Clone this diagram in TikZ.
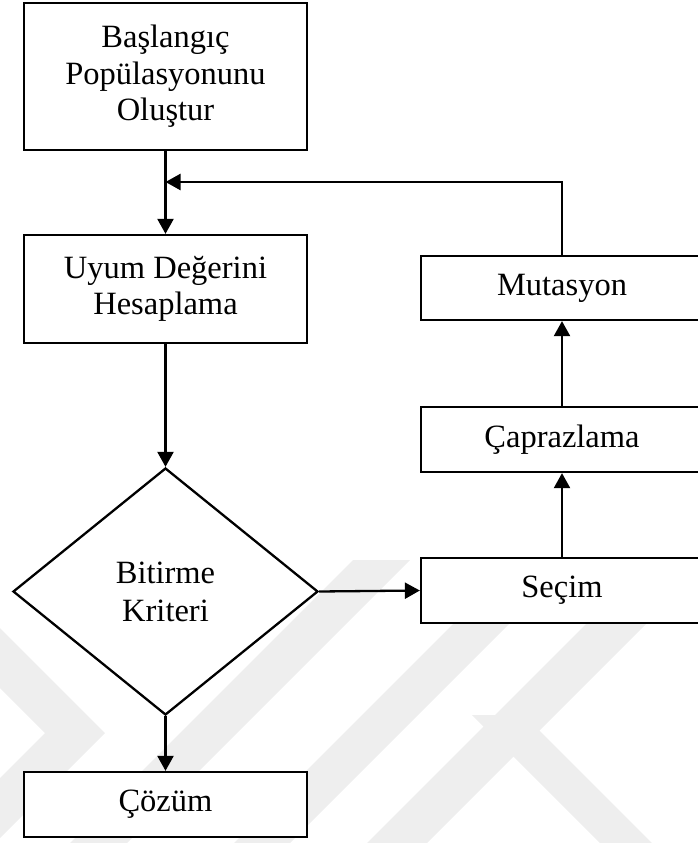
\documentclass[tikz,border=0pt]{standalone}
\usepackage{fontspec}
\setmainfont{Liberation Serif}
\usetikzlibrary{arrows.meta,shapes.geometric}

\definecolor{markgray}{HTML}{EEEEEE}

\tikzset{
  flowline/.style={line width=2.3pt, draw=black},
  flowarrow/.style={flowline, -{Triangle[length=15pt,width=16pt]}},
  procbox/.style={flowline, rectangle, fill=white, inner sep=0pt, align=center,
    font=\fontsize{32.5}{36.5}\selectfont},
  decision/.style={flowline, diamond, inner sep=0pt, align=center,
    minimum width=305pt, minimum height=247pt,
    font=\fontsize{32.5}{38}\selectfont},
  markband/.style={fill=markgray, draw=none},
}

\begin{document}
\begin{tikzpicture}[x=1pt, y=-1pt]
  \useasboundingbox (0,0) rectangle (698,843);

  % faint background mark in the lower part
  \begin{scope}
    \clip (0,560) rectangle (698,843);
    \fill[markband] (70,843) -- (127,843) -- (410,560) -- (353,560) -- cycle;
    \fill[markband] (234,843) -- (290,843) -- (573,560) -- (517,560) -- cycle;
    \fill[markband] (367,843) -- (427,843) -- (710,560) -- (650,560) -- cycle;
    \fill[markband] (472,715) -- (524,715) -- (652,843) -- (600,843) -- cycle;
    \fill[markband] (0,628) -- (105,733) -- (0,838) -- (0,778)
                    -- (45,733) -- (0,688) -- cycle;
  \end{scope}

  % left column
  \node[procbox, minimum width=283pt, minimum height=147pt] (start) at (165.5,76.5)
    {Başlangıç\\Popülasyonunu\\Oluştur};
  \node[procbox, minimum width=283pt, minimum height=108pt] (fit) at (165.5,289)
    {Uyum Değerini\\Hesaplama};
  \node[decision] (crit) at (165.5,591.5) {Bitirme\\Kriteri};
  \node[procbox, minimum width=283pt, minimum height=65pt] (sol) at (165.5,804.5)
    {Çözüm};

  % right column (boxes run past the right edge)
  \node[procbox, minimum width=282pt, minimum height=65pt] (sel) at (562,590.5)
    {Seçim};
  \node[procbox, minimum width=282pt, minimum height=65pt] (cross) at (562,439.5)
    {Çaprazlama};
  \node[procbox, minimum width=282pt, minimum height=64pt] (mut) at (562,288)
    {Mutasyon};

  % joint where the loop re-enters the main line
  \coordinate (join) at (165.5,182);

  % connectors
  \draw[flowarrow] (start) -- (fit);
  \draw[flowarrow] (fit) -- (crit);
  \draw[flowarrow] (crit) -- (sol);
  \draw[flowarrow] (crit.east) -- (sel.west);
  \draw[flowarrow] (sel) -- (cross);
  \draw[flowarrow] (cross) -- (mut);
  \draw[flowarrow] (mut.north) |- (join);
\end{tikzpicture}
\end{document}
